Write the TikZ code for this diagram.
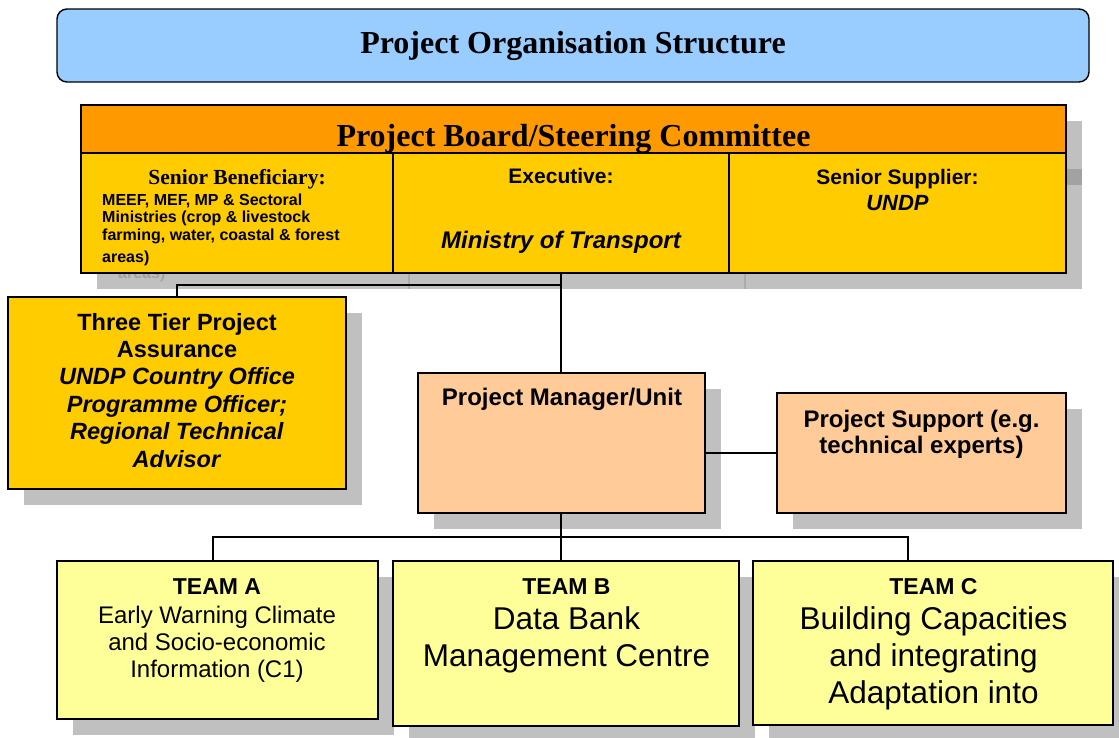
\documentclass[tikz,border=0pt]{standalone}
\usepackage{fontspec}
\setmainfont{Liberation Serif}
\newfontfamily\arial{Liberation Sans}
\usetikzlibrary{shadows}

\definecolor{titleblue}{HTML}{99CCFF}
\definecolor{boardorange}{HTML}{FF9900}
\definecolor{boardgold}{HTML}{FFCC00}
\definecolor{mgrpeach}{HTML}{FFCC99}
\definecolor{teamyellow}{HTML}{FFFF99}
\definecolor{shadowgrey}{HTML}{C0C0C0}
\definecolor{ghostgrey}{HTML}{A2A2A2}
\definecolor{ghostline}{HTML}{ABABAB}

% font size and line spacing in one go
\newcommand{\pxfont}[2]{\fontsize{#1pt}{#2pt}\selectfont}

% multi-line text nodes are placed by the baseline of their last line
\tikzset{
  box/.style={rectangle, draw=black, line width=1.4pt, inner sep=0pt,
              outer sep=0pt, anchor=north west},
  shadowed/.style={drop shadow={shadow xshift=16pt, shadow yshift=-16pt,
              fill=shadowgrey, opacity=1}},
  txt/.style={inner sep=0pt, outer sep=0pt, align=center, anchor=base},
  conn/.style={draw=black, line width=1.4pt},
}

\begin{document}
\begin{tikzpicture}[x=1pt, y=-1pt]
\useasboundingbox (0,0) rectangle (1119,737);
\clip (0,0) rectangle (1119,737);

% ---------- title banner ----------
\node[box, fill=titleblue, rounded corners=10pt,
      minimum width=1032pt, minimum height=73pt] (title) at (57,9) {};
\node[txt, font=\bfseries\pxfont{32}{36}] (titletext) at (573,53)
  {Project Organisation Structure};

% ---------- board shadow with its ghost details ----------
\fill[shadowgrey] (97,121) rectangle (1082,289);
\fill[ghostgrey] (1066,169) rectangle (1082,185);
\draw[ghostline, line width=1.4pt] (409,169) -- (409,289);
\draw[ghostline, line width=1.4pt] (745,169) -- (745,289);
\node[inner sep=0pt, anchor=base west, text=ghostgrey,
      font=\arial\bfseries\pxfont{16}{17.5}] (ghostareas) at (118,278) {areas)};

% ---------- project board ----------
\node[box, fill=boardorange, minimum width=985pt, minimum height=48pt]
  (board) at (81,105) {};
\node[txt, font=\bfseries\pxfont{32}{36}] (boardtext) at (573.5,146)
  {Project Board/Steering Committee};

\node[box, fill=boardgold, minimum width=312pt, minimum height=120pt]
  (sb) at (81,153) {};
\node[box, fill=boardgold, minimum width=336pt, minimum height=120pt]
  (ex) at (393,153) {};
\node[box, fill=boardgold, minimum width=337pt, minimum height=120pt]
  (ss) at (729,153) {};

\node[txt, font=\bfseries\pxfont{21.5}{24}] (sbhead) at (237,184)
  {Senior Beneficiary:};
\node[inner sep=0pt, align=left, anchor=base west,
      font=\arial\bfseries\pxfont{16}{17.5}] (sbbody) at (102,262)
  {MEEF, MEF, MP \& Sectoral\\Ministries (crop \& livestock\\
   farming, water, coastal \& forest\\[4.5pt]areas)};

\node[txt, font=\arial\bfseries\pxfont{21}{24}] (exhead) at (561,183)
  {Executive:};
\node[txt, font=\arial\bfseries\itshape\pxfont{24}{27}] (exbody) at (561,248)
  {Ministry of Transport};

\node[txt, font=\arial\bfseries\pxfont{21}{24}] (sshead) at (897.5,184)
  {Senior Supplier:};
\node[txt, font=\arial\bfseries\itshape\pxfont{22}{25}] (ssbody) at (897.5,210)
  {UNDP};

% ---------- assurance ----------
\node[box, shadowed, fill=boardgold, minimum width=338pt, minimum height=192pt]
  (as) at (8,297) {};
\node[txt, font=\arial\bfseries\pxfont{23.5}{27.4}] (astext) at (177,467)
  {Three Tier Project\\Assurance\\\textit{UNDP Country Office}\\
   \textit{Programme Officer;}\\\textit{Regional Technical}\\\textit{Advisor}};

% ---------- manager and support ----------
\node[box, shadowed, fill=mgrpeach, minimum width=287pt, minimum height=140pt]
  (pm) at (418,373) {};
\node[txt, font=\arial\bfseries\pxfont{24}{27}] (pmtext) at (562,405)
  {Project Manager/Unit};

\node[box, shadowed, fill=mgrpeach, minimum width=289pt, minimum height=120pt]
  (ps) at (777,393) {};
\node[txt, font=\arial\bfseries\pxfont{24}{25.5}] (pstext) at (921.5,453)
  {Project Support (e.g.\\technical experts)};

% ---------- teams ----------
\node[box, shadowed, fill=teamyellow, minimum width=321pt, minimum height=158pt]
  (ta) at (57,561) {};
\node[box, shadowed, fill=teamyellow, minimum width=346pt, minimum height=165pt]
  (tb) at (393,561) {};
\node[box, shadowed, fill=teamyellow, minimum width=360pt, minimum height=164pt]
  (tc) at (753,561) {};

\node[txt, font=\arial\bfseries\pxfont{23}{27}] (tahead) at (217,594) {TEAM A};
\node[txt, font=\arial\pxfont{24}{27}] (tabody) at (217,677)
  {Early Warning Climate\\and Socio-economic\\Information (C1)};

\node[txt, font=\arial\bfseries\pxfont{23}{27}] (tbhead) at (566.5,594) {TEAM B};
\node[txt, font=\arial\pxfont{31.5}{37}] (tbbody) at (566.5,666)
  {Data Bank\\Management Centre};

\node[txt, font=\arial\bfseries\pxfont{23}{27}] (tchead) at (933.5,594) {TEAM C};
\node[txt, font=\arial\pxfont{31.5}{37}] (tcbody) at (933.5,703)
  {Building Capacities\\and integrating\\Adaptation into};

% ---------- connectors ----------
\coordinate (bj) at (561,285);
\coordinate (tjA) at (213,537);
\coordinate (tjC) at (908,537);

\draw[conn] (ex.south) -- (ex.south |- pm.north);
\draw[conn] (bj) -| (as.north);
\draw[conn] (pm.east |- ps.west) -- (ps.west);
\draw[conn] (ex.south |- pm.south) -- (ex.south |- tb.north);
\draw[conn] (tjA |- ta.north) -- (tjA) -- (tjC) -- (tjC |- tc.north);
\end{tikzpicture}
\end{document}
